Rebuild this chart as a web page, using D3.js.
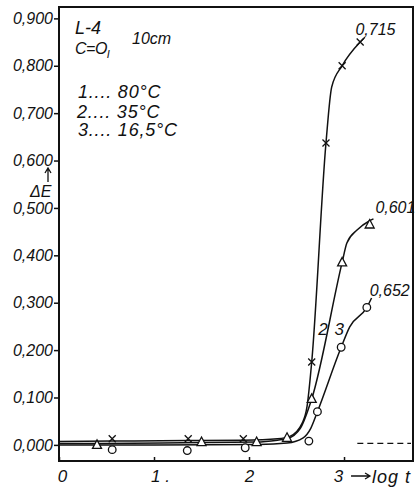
<!DOCTYPE html>
<html>
<head>
<meta charset="utf-8">
<script src="https://cdn.jsdelivr.net/npm/d3@7"></script>
<style>
  body { margin: 0; background: #fff; }
  svg text { font-family: "Liberation Sans", Arial, sans-serif; font-style: italic; fill: #111; }
</style>
</head>
<body>
<div id="chart"></div>
<script>
// values: [log t, delta E]
const xTicks = [0, 1, 2, 3];
const xTickLabels = ["0", "1 .", "2", "3"];
const yTicks = [0, 0.1, 0.2, 0.3, 0.4, 0.5, 0.6, 0.7, 0.8, 0.9];

// curve 1 (80 °C), crosses
const curve1Marks = [[0.56, 0.013], [1.36, 0.013], [1.94, 0.013], [2.66, 0.175], [2.81, 0.637], [2.98, 0.80], [3.17, 0.85]];
const curve1Line = [[0, 0.007], [0.56, 0.008], [1.36, 0.009], [1.94, 0.01], [2.3, 0.013], [2.43, 0.018], [2.56, 0.046], [2.61, 0.08], [2.66, 0.175], [2.81, 0.637], [2.87, 0.755], [2.98, 0.80], [3.17, 0.85], [3.22, 0.86]];

// curve 2 (35 °C), triangles
const curve2Marks = [[0.4, 0.0], [1.5, 0.006], [2.08, 0.006], [2.4, 0.015], [2.66, 0.097], [2.98, 0.385], [3.27, 0.465]];
const curve2Line = [[0, 0.003], [0.4, 0.003], [1.5, 0.005], [2.08, 0.006], [2.3, 0.01], [2.4, 0.013], [2.54, 0.035], [2.66, 0.097], [2.98, 0.385], [3.03, 0.426], [3.14, 0.454], [3.27, 0.473], [3.31, 0.477]];

// curve 3 (16,5 °C), circles
const curve3Marks = [[0.56, -0.01], [1.35, -0.012], [1.96, -0.006], [2.63, 0.008], [2.72, 0.07], [2.97, 0.206], [3.24, 0.29]];
const curve3Line = [[0, 0.0], [1.0, 0.0], [2.1, 0.001], [2.4, 0.004], [2.57, 0.015], [2.65, 0.035], [2.72, 0.07], [2.97, 0.206], [3.06, 0.249], [3.24, 0.29], [3.29, 0.31]];

// end values written at the curve tops
const endLabels = [["0,715", 3.12, 0.865], ["0,601", 3.33, 0.49], ["0,652", 3.27, 0.315]];
const curveNumbers = [["2", 2.73, 0.232], ["3", 2.9, 0.232]];
const dashStart = 3.14;
const dashValue = 0.003;

const width = 415, height = 489;
const margin = { left: 59, right: 2, top: 7, bottom: 28 };

const svg = d3.select('#chart').append('svg')
    .attr('width', width)
    .attr('height', height);

const x = d3.scaleLinear()
    .domain([0, 3.726])
    .range([margin.left, width - margin.right]);

const y = d3.scaleLinear()
    .domain([-0.034, 0.924])
    .range([height - margin.bottom, margin.top]);

// frame
svg.append('rect')
    .attr('x', x(0)).attr('y', y(0.924))
    .attr('width', x(3.726) - x(0))
    .attr('height', y(-0.034) - y(0.924))
    .attr('fill', 'none')
    .attr('stroke', '#111')
    .attr('stroke-width', 2);

// y axis
const yAxis = svg.append('g')
    .attr('transform', `translate(${x(0)},0)`)
    .call(d3.axisLeft(y)
        .tickValues(yTicks)
        .tickSize(5)
        .tickPadding(1)
        .tickFormat(d => d3.format('.3f')(d).replace('.', ',')));
yAxis.select('.domain').remove();
yAxis.selectAll('line').attr('stroke', '#111').attr('stroke-width', 1.5);
yAxis.selectAll('text').style('font-size', '16px').attr('fill', '#111');

// x axis, ticks pointing inward
const xAxis = svg.append('g')
    .attr('transform', `translate(0,${y(-0.034)})`)
    .call(d3.axisBottom(x)
        .tickValues(xTicks)
        .tickSize(-4)
        .tickPadding(9)
        .tickFormat((d, i) => xTickLabels[i]));
xAxis.select('.domain').remove();
xAxis.selectAll('line').attr('stroke', '#111').attr('stroke-width', 1.5);
xAxis.selectAll('text').style('font-size', '17px').attr('fill', '#111')
    .attr('dx', (d, i) => i === 0 ? 3 : (i === 1 ? 6 : (i === 3 ? -6 : 0)));

// "→ log t"
const arrowY = y(-0.034) + 15;
svg.append('path')
    .attr('d', `M${x(3) + 7},${arrowY}H${x(3) + 26}M${x(3) + 21},${arrowY - 3}L${x(3) + 26},${arrowY}L${x(3) + 21},${arrowY + 3}`)
    .attr('fill', 'none')
    .attr('stroke', '#111')
    .attr('stroke-width', 1.3);
svg.append('text')
    .attr('x', x(3) + 28).attr('y', y(-0.034) + 22)
    .style('font-size', '18px')
    .style('letter-spacing', '1px')
    .text('log t');

// axis title
svg.append('text')
    .attr('x', 30).attr('y', 197)
    .style('font-size', '16px')
    .text('\u0394E');
svg.append('path')
    .attr('d', 'M48,182V169M45,173L48,168L51,173')
    .attr('fill', 'none')
    .attr('stroke', '#111')
    .attr('stroke-width', 1.3);

// dashed asymptote
svg.append('line')
    .attr('x1', x(dashStart)).attr('x2', x(3.726) - 2)
    .attr('y1', y(dashValue)).attr('y2', y(dashValue))
    .attr('stroke', '#111')
    .attr('stroke-width', 1.3)
    .attr('stroke-dasharray', '6,4');

// curves
const line = d3.line()
    .x(d => x(d[0]))
    .y(d => y(d[1]))
    .curve(d3.curveMonotoneX);

[curve1Line, curve2Line, curve3Line].forEach(pts => {
    svg.append('path')
        .attr('d', line(pts))
        .attr('fill', 'none')
        .attr('stroke', '#111')
        .attr('stroke-width', 1.5);
});

// markers
svg.selectAll('.cross')
    .data(curve1Marks)
    .enter().append('path')
    .attr('class', 'cross')
    .attr('transform', d => `translate(${x(d[0])},${y(d[1])})`)
    .attr('d', 'M-3.5,-3.5L3.5,3.5M-3.5,3.5L3.5,-3.5')
    .attr('stroke', '#111')
    .attr('stroke-width', 1.3);

svg.selectAll('.tri')
    .data(curve2Marks)
    .enter().append('path')
    .attr('class', 'tri')
    .attr('transform', d => `translate(${x(d[0])},${y(d[1])})`)
    .attr('d', 'M0,-5L4.5,3.5L-4.5,3.5Z')
    .attr('fill', '#fff')
    .attr('stroke', '#111')
    .attr('stroke-width', 1.3);

svg.selectAll('.circ')
    .data(curve3Marks)
    .enter().append('circle')
    .attr('class', 'circ')
    .attr('cx', d => x(d[0]))
    .attr('cy', d => y(d[1]))
    .attr('r', 3.8)
    .attr('fill', '#fff')
    .attr('stroke', '#111')
    .attr('stroke-width', 1.3);

// curve annotations
svg.selectAll('.endlab')
    .data(endLabels)
    .enter().append('text')
    .attr('class', 'endlab')
    .attr('x', d => x(d[1]))
    .attr('y', d => y(d[2]))
    .style('font-size', '16px')
    .text(d => d[0]);

svg.selectAll('.numlab')
    .data(curveNumbers)
    .enter().append('text')
    .attr('class', 'numlab')
    .attr('x', d => x(d[1]))
    .attr('y', d => y(d[2]))
    .style('font-size', '17px')
    .text(d => d[0]);

// conditions block
const notes = svg.append('g').style('font-size', '18px');
notes.append('text').attr('x', 75).attr('y', 34).text('L-4');
notes.append('text').attr('x', 132).attr('y', 44).style('font-size', '16px').text('10cm');
const c = notes.append('text').attr('x', 75).attr('y', 54)
    .style('font-size', '16px').style('letter-spacing', '-0.5px').text('C=O');
c.append('tspan').attr('dy', 4).style('font-size', '11px').text('I');
const legend = notes.append('g').style('letter-spacing', '0.8px');
legend.append('text').attr('x', 78).attr('y', 98).text('1.... 80°C');
legend.append('text').attr('x', 77).attr('y', 118).text('2.... 35°C');
legend.append('text').attr('x', 78).attr('y', 136).text('3.... 16,5°C');
</script>
</body>
</html>
